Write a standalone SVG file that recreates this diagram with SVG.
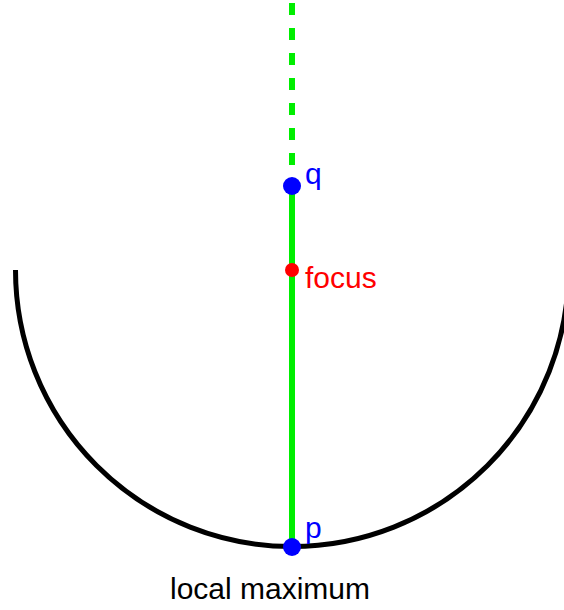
<svg xmlns="http://www.w3.org/2000/svg" width="564" height="610" viewBox="0 0 564 610">
<style>
.lbl{font-family:"Liberation Sans",Arial,sans-serif;font-size:30px}
.blue{fill:#0000ff}
.red{fill:#ff0000}
</style>
<rect width="564" height="610" fill="#ffffff"/>
<g id="curve">
<path d="M 15.5 270 A 276.5 276.5 0 0 0 568.5 270" fill="none" stroke="#000000" stroke-width="5"/>
</g>
<g id="connectors">
<line x1="292" y1="3" x2="292" y2="186" stroke="#00ee00" stroke-width="6" stroke-dasharray="12 13"/>
<line x1="292" y1="186" x2="292" y2="547" stroke="#00ee00" stroke-width="6"/>
</g>
<g id="q">
<circle cx="292" cy="186" r="9" class="blue"/>
<text x="305" y="184" class="lbl blue">q</text>
</g>
<g id="focus">
<circle cx="292" cy="270" r="7" class="red"/>
<text x="305" y="288" class="lbl red">focus</text>
</g>
<g id="p">
<circle cx="292" cy="547" r="9" class="blue"/>
<text x="305" y="538" class="lbl blue">p</text>
</g>
<g id="caption">
<text x="270" y="599" text-anchor="middle" class="lbl">local maximum</text>
</g>
</svg>
